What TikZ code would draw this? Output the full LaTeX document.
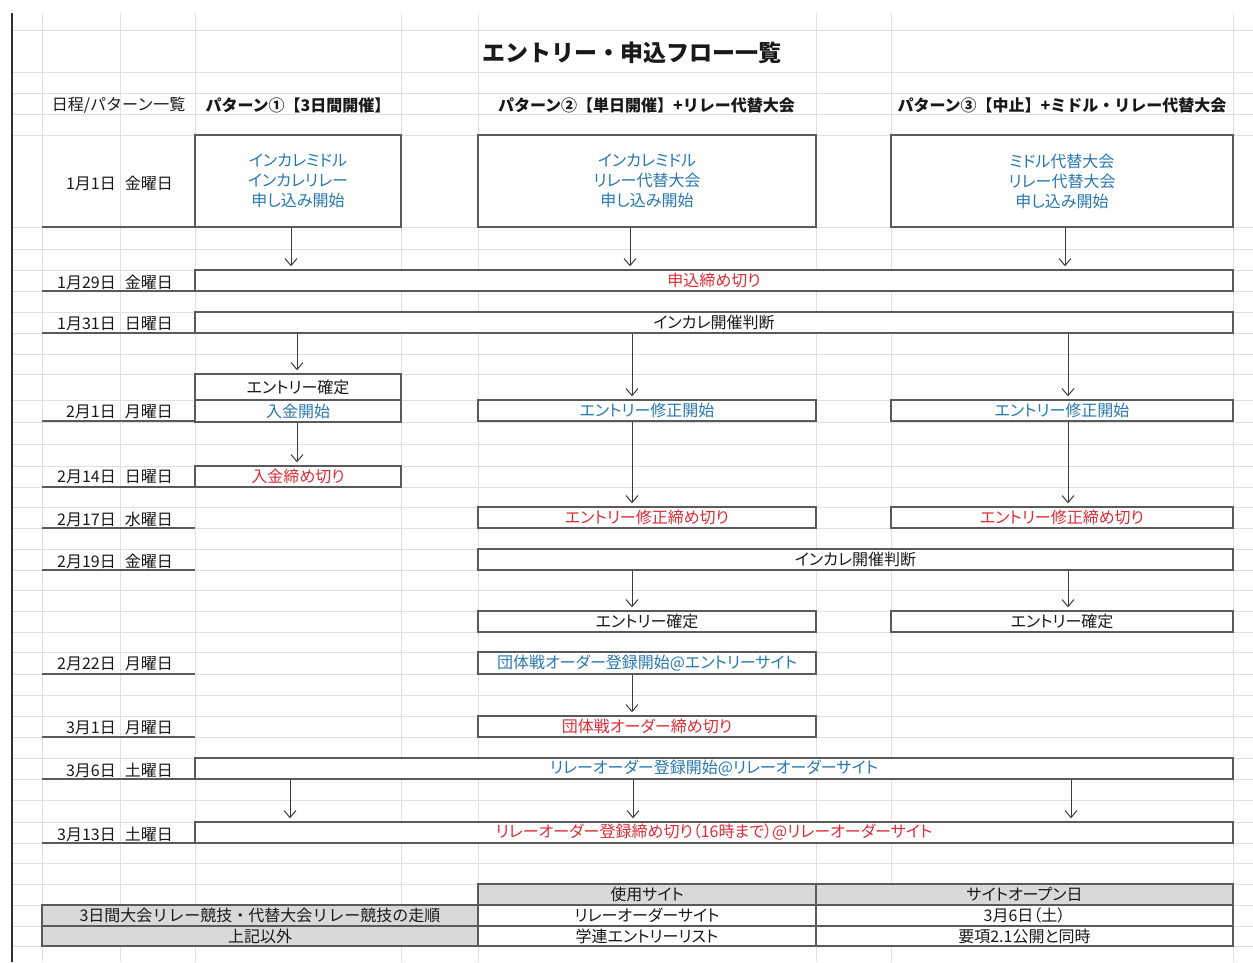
\documentclass[tikz,border=0pt]{standalone}
\usepackage{fontspec}
\setmainfont{Noto Sans CJK JP}[RawFeature=+palt]
\newfontfamily\jpfull{Noto Sans CJK JP}
\usetikzlibrary{arrows.meta}
\definecolor{tblue}{RGB}{40,120,175}
\definecolor{tred}{RGB}{222,45,55}
\definecolor{gridc}{RGB}{224,224,224}
\definecolor{edge}{RGB}{90,90,90}
\definecolor{hdrfill}{RGB}{217,217,217}
\definecolor{ink}{RGB}{25,25,25}
\newcommand\bx[7]{\node[box,#6,minimum width={#4pt-#2pt},minimum height={#5pt-#3pt}] (#1) at ({(#2+#4)/2},{(#3+#5)/2}) {#7};}
\begin{document}
\begin{tikzpicture}[x=1pt,y=-1pt,
  box/.style={draw=edge,line width=1.4pt,fill=white,inner sep=0pt,align=center,
    font=\fontsize{16}{20}\selectfont,text=ink},
  txtblue/.style={text=tblue},
  txtred/.style={text=tred},
  txtblack/.style={text=ink},
  cellgray/.style={fill=hdrfill,line width=1.2pt},
  cellwhite/.style={fill=white,line width=1.2pt},
  widetxt/.style={font=\jpfull\fontsize{16}{20}\selectfont},
  datelbl/.style={anchor=east,inner sep=0pt,font=\jpfull\fontsize{16}{20}\selectfont,text=ink},
  hdrlbl/.style={inner sep=0pt,font=\jpfull\bfseries\fontsize{16}{20}\selectfont,text=ink},
  uline/.style={draw=edge,line width=1.4pt},
  gridline/.style={draw=gridc,line width=0.9pt},
  arr/.style={draw=ink!85,line width=1pt,-{Straight Barb[length=7pt,width=12pt]},shorten >=3pt}
]
\useasboundingbox (0,0) rectangle (1253,962);
\fill[white] (0,0) rectangle (1253,962);
% grid
\foreach \yy in {30,72,93,114,135,227,249,270,291,312,333,354,374,400,422,444,466,487,507,528,549,570,590,611,632,652,674,695,716,737,758,779,800,822,843,863,884,905,926,946}
  \draw[gridline] (12,\yy) -- (1253,\yy);
\foreach \xx in {42,120,195,401,478,816,891,1233}
  \draw[gridline] (\xx,13) -- (\xx,962);
\draw[ink!90,line width=2.6pt] (12,13) -- (12,962);

% title and headers
\node[anchor=west,inner sep=0pt,font=\jpfull\bfseries\fontsize{23}{26}\selectfont,text=ink] (title) at (482,53) {エントリー・申込フロー一覧};
\node[inner sep=0pt,font=\jpfull\fontsize{16}{20}\selectfont,text=ink] (hdr0) at (118.5,105) {日程/パターン一覧};
\node[hdrlbl] (hdr1) at (298,105) {パターン①【3日間開催】};
\node[hdrlbl] (hdr2) at (646.5,105) {パターン②【単日開催】+リレー代替大会};
\node[hdrlbl] (hdr3) at (1062,105) {パターン③【中止】+ミドル・リレー代替大会};

% date labels and underlines
\node[datelbl] (dt1) at (173,183) {1月1日\hspace{9pt}金曜日};
\node[datelbl] (dt2) at (173,282) {1月29日\hspace{9pt}金曜日};
\node[datelbl] (dt3) at (173,324) {1月31日\hspace{9pt}日曜日};
\node[datelbl] (dt4) at (173,412) {2月1日\hspace{9pt}月曜日};
\node[datelbl] (dt5) at (173,477) {2月14日\hspace{9pt}日曜日};
\node[datelbl] (dt6) at (173,519) {2月17日\hspace{9pt}水曜日};
\node[datelbl] (dt7) at (173,561) {2月19日\hspace{9pt}金曜日};
\node[datelbl] (dt8) at (173,664) {2月22日\hspace{9pt}月曜日};
\node[datelbl] (dt9) at (173,728) {3月1日\hspace{9pt}月曜日};
\node[datelbl] (dt10) at (173,770) {3月6日\hspace{9pt}土曜日};
\node[datelbl] (dt11) at (173,834) {3月13日\hspace{9pt}土曜日};
\foreach \yy in {227,291,333,421,487,528,570,674,737,779,843}
  \draw[uline] (42,\yy) -- (195,\yy);

% boxes
\bx{a1}{195}{135}{401}{227}{txtblue}{インカレミドル\\インカレリレー\\申し込み開始}
\bx{a2}{478}{135}{816}{227}{txtblue}{インカレミドル\\リレー代替大会\\申し込み開始}
\bx{a3}{891}{135}{1233}{227}{txtblue}{ミドル代替大会\\リレー代替大会\\申し込み開始}
\bx{d129}{195}{270}{1233}{291}{txtred}{申込締め切り}
\bx{d131}{195}{312}{1233}{333}{txtblack}{インカレ開催判断}
\bx{p1conf}{195}{374}{401}{400}{txtblack}{エントリー確定}
\bx{p1pay}{195}{400}{401}{422}{txtblue}{入金開始}
\bx{p2fix}{478}{400}{816}{421}{txtblue}{エントリー修正開始}
\bx{p3fix}{891}{400}{1233}{421}{txtblue}{エントリー修正開始}
\bx{p1payend}{195}{466}{401}{487}{txtred}{入金締め切り}
\bx{p2fixend}{478}{507}{816}{528}{txtred}{エントリー修正締め切り}
\bx{p3fixend}{891}{507}{1233}{528}{txtred}{エントリー修正締め切り}
\bx{d219}{478}{549}{1233}{570}{txtblack}{インカレ開催判断}
\bx{p2conf}{478}{611}{816}{632}{txtblack}{エントリー確定}
\bx{p3conf}{891}{611}{1233}{632}{txtblack}{エントリー確定}
\bx{p2team}{478}{652}{816}{674}{txtblue}{団体戦オーダー登録開始@エントリーサイト}
\bx{p2teamend}{478}{716}{816}{737}{txtred}{団体戦オーダー締め切り}
\bx{d36}{195}{758}{1233}{779}{txtblue}{リレーオーダー登録開始@リレーオーダーサイト}
\bx{d313}{195}{822}{1233}{843}{txtred}{リレーオーダー登録締め切り（16時まで）@リレーオーダーサイト}

% bottom table
\bx{t11}{42}{905}{478}{926}{cellgray,widetxt}{3日間大会リレー競技・代替大会リレー競技の走順}
\bx{t21}{42}{926}{478}{946}{cellgray}{上記以外}
\bx{h2}{478}{884}{816}{905}{cellgray}{使用サイト}
\bx{h3}{816}{884}{1233}{905}{cellgray}{サイトオープン日}
\bx{c12}{478}{905}{816}{926}{cellwhite}{リレーオーダーサイト}
\bx{c13}{816}{905}{1233}{926}{cellwhite}{3月6日（土）}
\bx{c22}{478}{926}{816}{946}{cellwhite}{学連エントリーリスト}
\bx{c23}{816}{926}{1233}{946}{cellwhite}{要項2.1公開と同時}

% arrow columns
\coordinate (xa) at (291,0);
\coordinate (xb) at (630,0);
\coordinate (xc) at (1065,0);
\coordinate (xd) at (297,0);
\coordinate (xe) at (632,0);
\coordinate (xf) at (1068,0);
\coordinate (xg) at (290,0);
\coordinate (xh) at (633,0);
\coordinate (xi) at (1071,0);
\draw[arr] (a1.south -| xa) -- (d129.north -| xa);
\draw[arr] (a2.south -| xb) -- (d129.north -| xb);
\draw[arr] (a3.south -| xc) -- (d129.north -| xc);
\draw[arr] (d131.south -| xd) -- (p1conf.north -| xd);
\draw[arr] (d131.south -| xe) -- (p2fix.north -| xe);
\draw[arr] (d131.south -| xf) -- (p3fix.north -| xf);
\draw[arr] (p1pay.south -| xd) -- (p1payend.north -| xd);
\draw[arr] (p2fix.south -| xe) -- (p2fixend.north -| xe);
\draw[arr] (p3fix.south -| xf) -- (p3fixend.north -| xf);
\draw[arr] (d219.south -| xe) -- (p2conf.north -| xe);
\draw[arr] (d219.south -| xf) -- (p3conf.north -| xf);
\draw[arr] (p2team.south -| xe) -- (p2teamend.north -| xe);
\draw[arr] (d36.south -| xg) -- (d313.north -| xg);
\draw[arr] (d36.south -| xh) -- (d313.north -| xh);
\draw[arr] (d36.south -| xi) -- (d313.north -| xi);
\end{tikzpicture}
\end{document}
